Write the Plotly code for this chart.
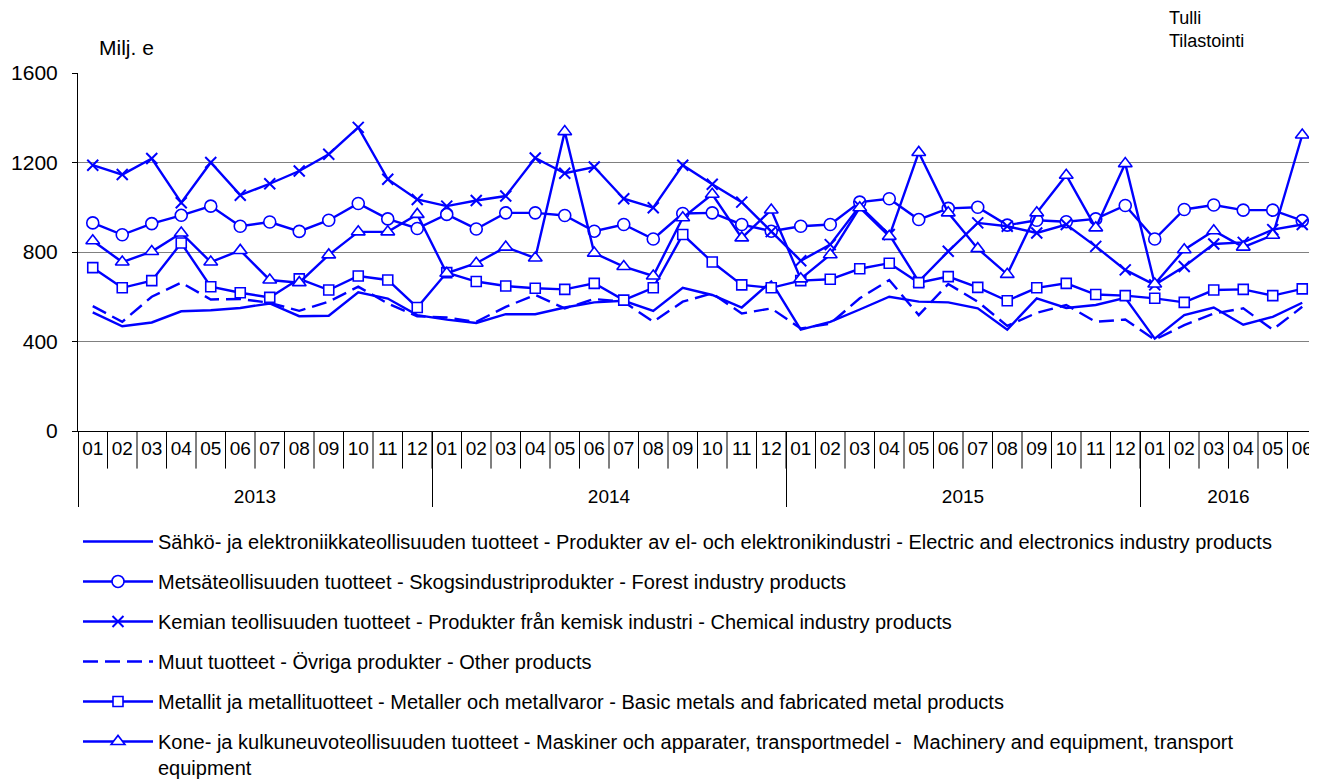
import plotly.graph_objects as go

years = ["2013"] * 12 + ["2014"] * 12 + ["2015"] * 12 + ["2016"] * 6
months = [f"{m:02d}" for m in range(1, 13)] * 3 + [f"{m:02d}" for m in range(1, 7)]

electric = [530, 468, 485, 535, 540, 550, 570, 513, 515, 620, 592, 518,
            498, 483, 522, 522, 552, 575, 582, 537, 640, 608, 552, 668,
            453, 488, 543, 600, 578, 575, 548, 453, 593, 550, 563, 595,
            413, 518, 552, 475, 510, 573]
forest = [930, 877, 927, 964, 1005, 915, 934, 892, 942, 1017, 948, 905,
          968, 903, 975, 975, 963, 893, 923, 858, 972, 975, 923, 893,
          915, 923, 1023, 1038, 945, 995, 1000, 920, 942, 935, 948, 1008,
          858, 990, 1010, 987, 987, 940]
chemical = [1188, 1146, 1218, 1020, 1200, 1054, 1105, 1162, 1237, 1357, 1125, 1035,
            1005, 1030, 1050, 1220, 1152, 1180, 1038, 998, 1188, 1103, 1023, 891,
            761, 833, 1005, 878, 668, 803, 930, 915, 885, 923, 825, 720,
            653, 735, 836, 843, 900, 923]
other = [558, 488, 600, 663, 588, 590, 573, 537, 578, 645, 570, 513,
         507, 488, 555, 608, 548, 590, 578, 488, 578, 615, 525, 548,
         458, 480, 593, 675, 518, 657, 578, 470, 528, 563, 488, 498,
         408, 473, 525, 548, 453, 555]
metals = [730, 640, 672, 840, 645, 618, 597, 680, 630, 693, 675, 552,
          708, 668, 648, 638, 633, 660, 585, 640, 878, 755, 653, 640,
          672, 678, 725, 750, 663, 690, 642, 582, 640, 660, 610, 605,
          593, 575, 630, 633, 605, 635]
machinery = [850, 755, 802, 885, 755, 807, 675, 663, 787, 890, 890, 968,
             705, 750, 822, 773, 1338, 795, 735, 693, 953, 1058, 863, 988,
             680, 788, 998, 870, 1245, 975, 815, 700, 975, 1143, 908, 1195,
             657, 810, 895, 822, 875, 1323]

names = [
    "Sähkö- ja elektroniikkateollisuuden tuotteet - Produkter av el- och elektronikindustri - Electric and electronics industry products",
    "Metsäteollisuuden tuotteet - Skogsindustriprodukter - Forest industry products",
    "Kemian teollisuuden tuotteet - Produkter från kemisk industri - Chemical industry products",
    "Muut tuotteet - Övriga produkter - Other products",
    "Metallit ja metallituotteet - Metaller och metallvaror - Basic metals and fabricated metal products",
    "Kone- ja kulkuneuvoteollisuuden tuotteet - Maskiner och apparater, transportmedel -  Machinery and equipment, transport<br>equipment",
]
series = [electric, forest, chemical, other, metals, machinery]

BLUE = "#0000FF"
styles = [
    dict(mode="lines", dash="solid", marker=None),
    dict(mode="lines+markers", dash="solid",
         marker=dict(symbol="circle", size=12, color="white", line=dict(color=BLUE, width=1.6))),
    dict(mode="lines+markers", dash="solid",
         marker=dict(symbol="x-thin", size=11, color=BLUE, line=dict(color=BLUE, width=2))),
    dict(mode="lines", dash="15px,7px", marker=None),
    dict(mode="lines+markers", dash="solid",
         marker=dict(symbol="square", size=10, color="white", line=dict(color=BLUE, width=1.6))),
    dict(mode="lines+markers", dash="solid",
         marker=dict(symbol="triangle-up", size=12, color="white", line=dict(color=BLUE, width=1.6))),
]

# month labels get an empty second line so the year row sits lower
month_labels = [m + "<br> " for m in months]

fig = go.Figure()
for i, (vals, name, st) in enumerate(zip(series, names, styles)):
    kw = dict(x=[years, month_labels], y=vals, name=name, mode=st["mode"],
              line=dict(color=BLUE, width=2.4, dash=st["dash"]),
              legendgroup=f"g{i}")
    if st["marker"] is not None:
        kw["marker"] = st["marker"]
    fig.add_trace(go.Scatter(**kw))

n = len(months)
shapes = [dict(type="line", xref="x", yref="paper", x0=k - 0.5, x1=k - 0.5,
               y0=0, y1=-0.105, line=dict(color="black", width=1))
          for k in range(n + 1)]

fig.update_layout(
    width=1309, height=772,
    margin=dict(l=70, r=0, t=65, b=349, autoexpand=False),
    paper_bgcolor="white", plot_bgcolor="white",
    font=dict(family="Liberation Sans, Arial, sans-serif", color="black", size=20),
    showlegend=True,
    legend=dict(x=0.0, y=-0.254, xanchor="left", yanchor="top",
                orientation="v", font=dict(size=20), tracegroupgap=11,
                itemwidth=70, valign="top", bgcolor="rgba(0,0,0,0)"),
    shapes=shapes,
    annotations=[
        dict(text="Milj. e", xref="paper", yref="paper", x=0.015, y=1.07,
             xanchor="left", yanchor="middle", showarrow=False, font=dict(size=21)),
        dict(text="Tulli", xref="paper", yref="paper", x=0.879, y=1.155,
             xanchor="left", yanchor="middle", showarrow=False, font=dict(size=18)),
        dict(text="Tilastointi", xref="paper", yref="paper", x=0.879, y=1.088,
             xanchor="left", yanchor="middle", showarrow=False, font=dict(size=18)),
    ],
)
fig.update_yaxes(range=[0, 1600], tickvals=[0, 400, 800, 1200, 1600],
                 showgrid=True, gridcolor="#808080", gridwidth=1,
                 showline=True, linecolor="black", linewidth=1,
                 ticks="outside", ticklen=5, tickcolor="black",
                 ticklabelstandoff=10,
                 zeroline=False, tickfont=dict(size=21))
fig.update_xaxes(type="multicategory", range=[-0.5, n - 0.5],
                 showline=True, linecolor="black", linewidth=1,
                 ticks="outside", ticklen=11, tickcolor="rgba(0,0,0,0)",
                 tickangle=0, showdividers=True,
                 dividercolor="black", dividerwidth=1, tickfont=dict(size=19),
                 showgrid=False, automargin=False)

fig.write_html("out.html")
